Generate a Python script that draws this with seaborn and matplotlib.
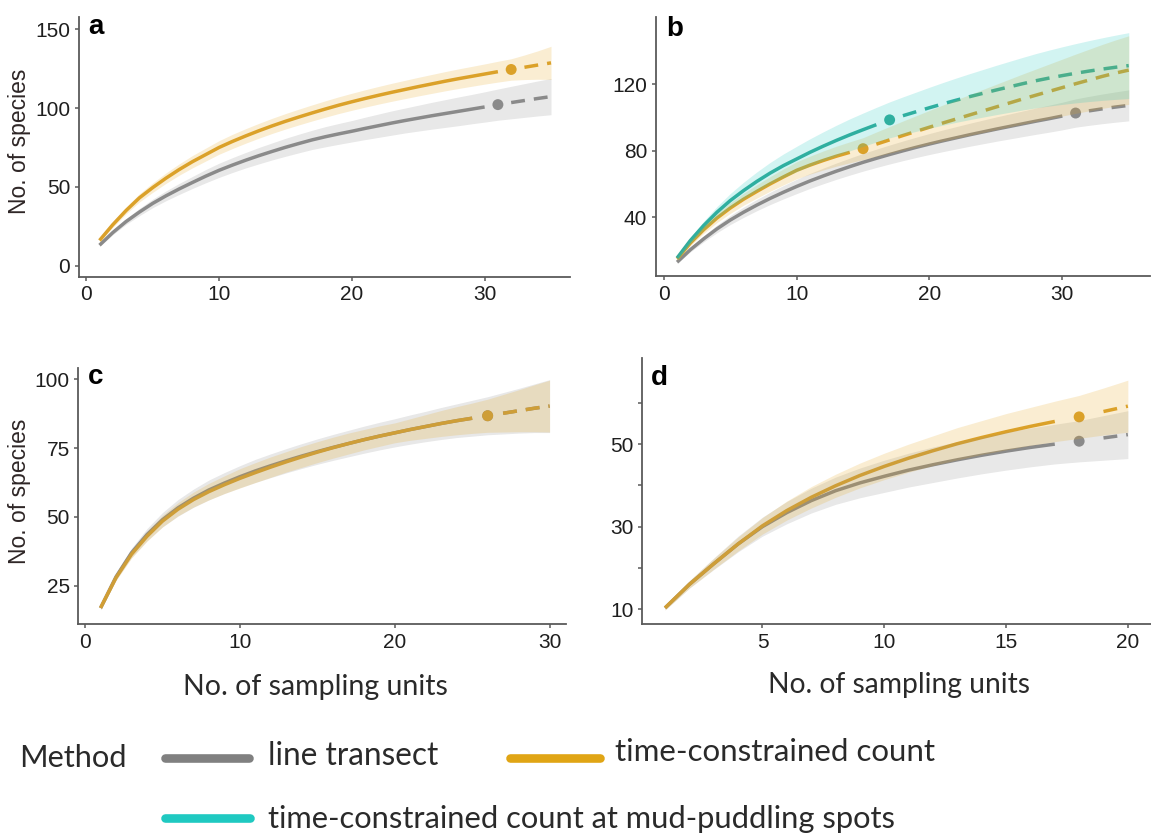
import matplotlib
matplotlib.use("Agg")
import matplotlib.pyplot as plt
from matplotlib.lines import Line2D
import numpy as np
import pandas as pd
import seaborn as sns

sns.set_theme(style="ticks")
plt.rcParams["font.family"] = ["Liberation Sans", "DejaVu Sans"]

# ---------------------------------------------------------------- data
METHODS = ["line transect", "time-constrained count",
           "time-constrained count at mud-puddling spots"]

units_35 = list(range(1, 36))
units_30 = list(range(1, 31))
units_20 = list(range(1, 21))

# panel a
line_a_mean = [13, 21, 28, 34, 39.5, 44.3, 48.7, 52.8, 56.8, 60.5, 63.8, 66.9, 69.8, 72.5, 75.1,
               77.5, 79.8, 81.8, 83.6, 85.3, 87.1, 88.8, 90.5, 92.1, 93.6, 95.1, 96.5, 97.9, 99.3,
               100.7, 102.2, 103.5, 104.8, 106.1, 107.3]
line_a_ci = [0.8, 1.3, 1.8, 2.3, 2.7, 3.1, 3.5, 3.8, 4.2, 4.5, 4.7, 4.9, 5.2, 5.4, 5.7, 5.9, 6.1,
             6.4, 6.6, 6.8, 7.1, 7.4, 7.7, 7.9, 8.2, 8.5, 8.8, 9.1, 9.3, 9.6, 9.9, 10.3, 10.7, 11.1, 11.5]
line_a_obs = 31
tcc_a_mean = [16, 26, 35, 43, 49.5, 55.5, 61, 66, 70.5, 75, 78.8, 82.3, 85.6, 88.7, 91.6, 94.3,
              96.9, 99.4, 101.8, 104, 106.1, 108.1, 110, 111.8, 113.6, 115.3, 117, 118.6, 120.1,
              121.6, 123.1, 124.5, 125.9, 127.3, 128.7]
tcc_a_ci = [1, 1.6, 2.1, 2.6, 3, 3.3, 3.6, 3.9, 4.1, 4.3, 4.5, 4.6, 4.7, 4.8, 4.9, 5.0, 5.1, 5.2,
            5.3, 5.4, 5.5, 5.6, 5.7, 5.8, 5.9, 6.0, 6.1, 6.2, 6.3, 6.4, 6.6, 6.8, 7.8, 9.0, 10.5]
tcc_a_obs = 32

# panel b
line_b_mean = [13, 20.5, 27, 33, 38.3, 43, 47.3, 51.3, 55, 58.5, 61.8, 64.8, 67.7, 70.4, 73,
               75.4, 77.7, 79.9, 82, 84, 85.9, 87.7, 89.5, 91.2, 92.9, 94.5, 96.1, 97.7, 99.2,
               100.8, 102.6, 103.9, 105.1, 106.2, 107.2]
line_b_ci = [0.8, 1.3, 1.8, 2.3, 2.7, 3.1, 3.4, 3.7, 4, 4.3, 4.5, 4.7, 4.9, 5.1, 5.3, 5.5, 5.7,
             5.9, 6.1, 6.3, 6.5, 6.7, 6.9, 7.1, 7.3, 7.5, 7.7, 7.9, 8.1, 8.3, 8.5, 8.7, 8.9, 9.1, 9.3]
line_b_obs = 31
tcc_b_mean = [15, 24.5, 32.5, 39.5, 45.5, 50.8, 55.5, 60, 64.2, 68.2, 71.3, 74.1, 76.7, 79.0, 81.2,
              83.9, 86.5, 89.1, 91.6, 94.1, 96.6, 99.0, 101.4, 103.8, 106.2, 108.6, 111.0, 113.3,
              115.6, 117.9, 120.2, 122.4, 124.6, 126.6, 128.4]
tcc_b_ci = [1, 1.6, 2.2, 2.7, 3.2, 3.6, 4, 4.4, 4.8, 5.1, 5.4, 5.7, 6, 6.3, 6.6, 7.3, 8, 8.7, 9.4,
            10.1, 10.8, 11.5, 12.2, 12.9, 13.6, 14.3, 15, 15.7, 16.4, 17.1, 17.8, 18.5, 19.2,
            19.9, 20.6]
tcc_b_obs = 15
mud_b_mean = [15.5, 26, 35, 43, 50, 56, 61.5, 66.5, 71, 75, 79, 82.7, 86.2, 89.5, 92.6, 95.6,
              98.5, 101, 103.4, 105.8, 108.1, 110.3, 112.4, 114.4, 116.4, 118.3, 120.2, 122,
              123.6, 125.1, 126.5, 127.8, 129, 130.1, 131.1]
mud_b_ci = [1, 1.8, 2.6, 3.4, 4.2, 5, 5.7, 6.4, 7, 7.6, 8.1, 8.6, 9.1, 9.6, 10, 10.4, 10.8, 11.3,
            11.8, 12.3, 12.8, 13.3, 13.8, 14.3, 14.8, 15.3, 15.8, 16.3, 16.8, 17.3, 17.8, 18.3,
            18.8, 19.3, 19.8]
mud_b_obs = 17

# panel c
line_c_mean = [17, 28.3, 37, 43.6, 49, 53.3, 56.8, 59.8, 62.3, 64.6, 66.7, 68.6, 70.4, 72.1, 73.7,
               75.2, 76.6, 78, 79.3, 80.5, 81.7, 82.8, 83.9, 84.9, 85.8, 86.7, 87.6, 88.5, 89.4, 90.2]
line_c_ci = [0.7, 1.2, 1.7, 2.2, 2.6, 3, 3.3, 3.6, 3.8, 4, 4.2, 4.3, 4.4, 4.5, 4.6, 4.7, 4.8, 4.9,
             5, 5.1, 5.3, 5.5, 5.8, 6.1, 6.5, 6.9, 7.5, 8.1, 8.8, 9.6]
line_c_obs = 26
tcc_c_mean = [17, 28, 36.5, 43, 48.5, 52.8, 56.3, 59.2, 61.7, 64, 66.1, 68.1, 70, 71.8, 73.5, 75.1,
              76.6, 78, 79.3, 80.5, 81.7, 82.8, 83.9, 84.9, 85.8, 86.7, 87.6, 88.5, 89.4, 90.2]
tcc_c_ci = [0.6, 1, 1.4, 1.8, 2.1, 2.4, 2.7, 3.0, 3.2, 3.5, 3.6, 3.7, 3.7, 3.8, 3.8, 3.8, 3.8,
            3.7, 3.7, 3.6, 3.9, 4.3, 4.7, 5.1, 5.5, 6, 6.8, 7.6, 8.5, 9.4]
tcc_c_obs = 26

# panel d
line_d_mean = [10.3, 16, 21, 25.8, 30, 33.4, 36.3, 38.7, 40.6, 42.2, 43.7, 45, 46.2, 47.3, 48.3,
               49.2, 50, 50.7, 51.5, 52.3]
line_d_ci = [0.5, 0.9, 1.4, 1.9, 2.3, 2.7, 3.0, 3.3, 3.6, 3.9, 4.1, 4.3, 4.4, 4.5, 4.6, 4.7, 4.8,
             5.0, 5.4, 5.8]
line_d_obs = 18
tcc_d_mean = [10.3, 16, 21, 25.8, 30.2, 33.9, 37.1, 39.9, 42.4, 44.6, 46.6, 48.4, 50.1, 51.6, 53.0,
              54.3, 55.5, 56.6, 57.9, 59.2]
tcc_d_ci = [0.5, 0.9, 1.3, 1.7, 2.0, 2.3, 2.6, 2.8, 3.0, 3.2, 3.4, 3.6, 3.9, 4.1, 4.4, 4.6, 4.9,
            5.2, 5.7, 6.3]
tcc_d_obs = 18

# ---------------------------------------------------------------- styling
LINE_COLORS = {METHODS[0]: "#8a8a8a", METHODS[1]: "#d9a02c", METHODS[2]: "#34a999"}
FILL_COLORS = {METHODS[0]: "#8c8c8c", METHODS[1]: "#e6a71f", METHODS[2]: "#1fc9c1"}
KEY_COLORS = {METHODS[0]: "#808080", METHODS[1]: "#e0a515", METHODS[2]: "#1fc9c1"}

W, H = 1151, 840
fig = plt.figure(figsize=(W / 100, H / 100), dpi=100)


def rect(left, top, right, bottom):
    return [left / W, 1 - bottom / H, (right - left) / W, (bottom - top) / H]


PANELS = [
    dict(letter="a", box=(78.8, 17, 570, 276.7), xlim=(-0.56, 36.43), ylim=(-7, 157.8),
         xticks=[0, 10, 20, 30], yticks=[0, 50, 100, 150], ylabels=None, ylab=True,
         letter_xy=(0.02, 0.935),
         curves=[(METHODS[0], units_35, line_a_mean, line_a_ci, line_a_obs),
                 (METHODS[1], units_35, tcc_a_mean, tcc_a_ci, tcc_a_obs)]),
    dict(letter="b", box=(655.7, 17.5, 1150, 276), xlim=(-0.61, 36.6), ylim=(4.7, 160),
         xticks=[0, 10, 20, 30], yticks=[40, 80, 120], ylabels=None, ylab=False,
         letter_xy=(0.022, 0.93),
         curves=[(METHODS[0], units_35, line_b_mean, line_b_ci, line_b_obs),
                 (METHODS[1], units_35, tcc_b_mean, tcc_b_ci, tcc_b_obs),
                 (METHODS[2], units_35, mud_b_mean, mud_b_ci, mud_b_obs)]),
    dict(letter="c", box=(78.4, 368.3, 566, 624), xlim=(-0.43, 31.06), ylim=(11.2, 103.9),
         xticks=[0, 10, 20, 30], yticks=[25, 50, 75, 100], ylabels=None, ylab=True,
         letter_xy=(0.02, 0.94),
         curves=[(METHODS[0], units_30, line_c_mean, line_c_ci, line_c_obs),
                 (METHODS[1], units_30, tcc_c_mean, tcc_c_ci, tcc_c_obs)]),
    dict(letter="d", box=(641.9, 358.3, 1151, 624), xlim=(0.05, 20.95), ylim=(6.4, 70.8),
         xticks=[5, 10, 15, 20], yticks=[10, 20, 30, 40, 50, 60],
         ylabels=["10", "", "30", "", "50", ""], ylab=False,
         letter_xy=(0.018, 0.9),
         curves=[(METHODS[0], units_20, line_d_mean, line_d_ci, line_d_obs),
                 (METHODS[1], units_20, tcc_d_mean, tcc_d_ci, tcc_d_obs)]),
]

AXIS_GREY = "#5a5a5a"

for spec in PANELS:
    ax = fig.add_axes(rect(*spec["box"]))
    ribbons = []
    for method, x, mean, ci, obs in spec["curves"]:
        df = pd.DataFrame({"units": x, "species": mean, "ci": ci})
        rare = df[df["units"] < obs]
        extra = df[df["units"] > obs]
        ref = df[df["units"] == obs]
        col = LINE_COLORS[method]
        sns.lineplot(data=rare, x="units", y="species", ax=ax, color=col, lw=2.5,
                     estimator=None, errorbar=None, zorder=2, solid_capstyle="butt")
        sns.lineplot(data=extra, x="units", y="species", ax=ax, color=col, lw=2.5,
                     estimator=None, errorbar=None, zorder=2, linestyle=(0, (4, 2.6)),
                     dash_capstyle="butt")
        sns.scatterplot(data=ref, x="units", y="species", ax=ax, color=col, s=62,
                        edgecolor="none", linewidth=0, zorder=2.5)
        ribbons.append((method, df))
    # confidence ribbons sit on top of the curves
    for method, df in ribbons:
        ax.fill_between(df["units"], df["species"] - df["ci"], df["species"] + df["ci"],
                        color=FILL_COLORS[method], alpha=0.2, lw=0, zorder=3)

    ax.set_xlim(*spec["xlim"])
    ax.set_ylim(*spec["ylim"])
    ax.set_xticks(spec["xticks"])
    ax.set_yticks(spec["yticks"])
    if spec["ylabels"] is not None:
        ax.set_yticklabels(spec["ylabels"])
    ax.set_xlabel("")
    ax.set_ylabel("")
    sns.despine(ax=ax)
    for side in ("left", "bottom"):
        ax.spines[side].set_color(AXIS_GREY)
        ax.spines[side].set_linewidth(1.3)
    ax.tick_params(axis="both", colors=AXIS_GREY, length=3.2, width=1.1, pad=3,
                   labelsize=15, labelcolor="#1e1e1e")
    ax.patch.set_alpha(0)
    if spec["ylab"]:
        ax.set_ylabel("No. of species", fontsize=16.5, color="#2e2626")
        ax.yaxis.set_label_coords(-0.098, 0.52)
    ax.text(*spec["letter_xy"], spec["letter"], transform=ax.transAxes, fontsize=20,
            fontweight="bold", ha="left", va="baseline", color="black", zorder=5)

renderer = fig.canvas.get_renderer()


def fitted_text(cx, cy, s, width_px, ha="center", size0=20, **kw):
    """Place text in pixel coordinates and scale it to span the given width."""
    t = fig.text(cx / W, 1 - cy / H, s, fontsize=size0, family=["Lato", "DejaVu Sans"],
                 ha=ha, va="center", color="#2a2a2a", **kw)
    bb = t.get_window_extent(renderer)
    t.set_fontsize(size0 * width_px / bb.width)
    return t


# axis titles under the bottom panels
fitted_text(315.4, 687, "No. of sampling units", 264)
fitted_text(898.6, 685, "No. of sampling units", 262)

# legend
fitted_text(19, 758, "Method", 108, ha="left")
key_rows = [(METHODS[0], 164.5, 248.7, 757.5, 268, 756, 171),
            (METHODS[1], 510, 600, 757.5, 615, 752, 321),
            (METHODS[2], 164.5, 250, 818, 268, 819, 630)]
for method, x0, x1, y, tx, ty, tw in key_rows:
    fig.add_artist(Line2D([x0 / W, x1 / W], [1 - y / H, 1 - y / H], lw=6.2,
                          color=KEY_COLORS[method], solid_capstyle="round",
                          transform=fig.transFigure))
    fitted_text(tx, ty, method, tw, ha="left")

fig.savefig("out.png", dpi=100, facecolor="white")
